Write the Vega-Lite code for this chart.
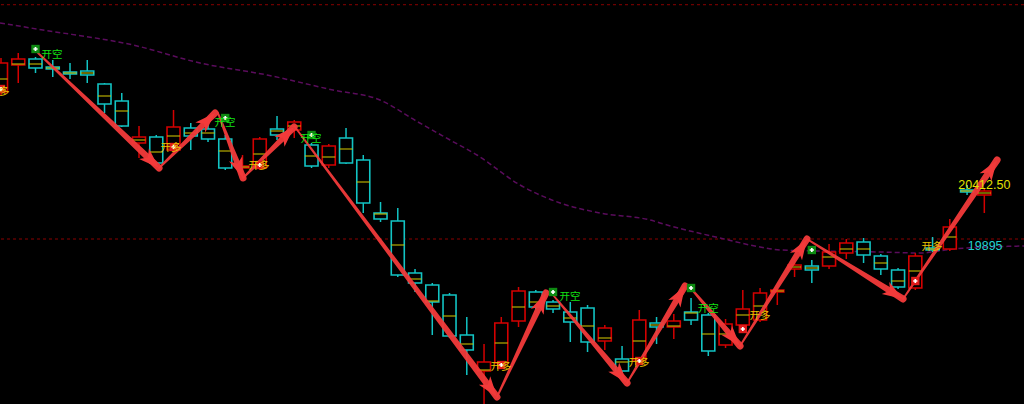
{
  "$schema": "https://vega.github.io/schema/vega-lite/v6.json",
  "width": 1024,
  "height": 404,
  "autosize": {"type": "none"},
  "padding": 0,
  "background": "#000000",
  "config": {"view": {"stroke": null}},
  "datasets": {
    "candles": [
      {"i":0,"o":21145,"h":21434,"l":21119.5,"c":21391.5,"m":21255.5},
      {"i":1,"o":21374.5,"h":21476.5,"l":21221.5,"c":21425.5,"m":21383},
      {"i":2,"o":21425.5,"h":21442.5,"l":21306.5,"c":21349,"m":21383},
      {"i":3,"o":21357.5,"h":21417,"l":21272.5,"c":21340.5,"m":21349},
      {"i":4,"o":21315,"h":21391.5,"l":21255.5,"c":21298,"m":21306.5},
      {"i":5,"o":21323.5,"h":21417,"l":21221.5,"c":21289.5,"m":21306.5},
      {"i":6,"o":21213,"h":21221.5,"l":20966.5,"c":21043,"m":21111},
      {"i":7,"o":21068.5,"h":21136.5,"l":20847.5,"c":20856,"m":20983.5},
      {"i":8,"o":20711.5,"h":20856,"l":20584,"c":20762.5,"m":20737},
      {"i":9,"o":20762.5,"h":20779.5,"l":20524.5,"c":20541.5,"m":20635},
      {"i":10,"o":20652,"h":20992,"l":20635,"c":20847.5,"m":20771},
      {"i":11,"o":20839,"h":20881.5,"l":20652,"c":20771,"m":20796.5},
      {"i":12,"o":20830.5,"h":20890,"l":20720,"c":20745.5,"m":20796.5},
      {"i":13,"o":20745.5,"h":20779.5,"l":20482,"c":20499,"m":20643.5},
      {"i":14,"o":20499,"h":20609.5,"l":20422.5,"c":20516,"m":20507.5},
      {"i":15,"o":20499,"h":20762.5,"l":20482,"c":20745.5,"m":20618},
      {"i":16,"o":20830.5,"h":20941,"l":20737,"c":20779.5,"m":20813.5},
      {"i":17,"o":20822,"h":20907,"l":20754,"c":20890,"m":20856},
      {"i":18,"o":20694.5,"h":20711.5,"l":20499,"c":20516,"m":20601},
      {"i":19,"o":20524.5,"h":20703,"l":20499,"c":20686,"m":20592.5},
      {"i":20,"o":20754,"h":20839,"l":20533,"c":20541.5,"m":20660.5},
      {"i":21,"o":20567,"h":20609.5,"l":20116.5,"c":20201.5,"m":20380},
      {"i":22,"o":20116.5,"h":20210,"l":20040,"c":20065.5,"m":20108},
      {"i":23,"o":20048.5,"h":20159,"l":19572.5,"c":19589.5,"m":19844.5},
      {"i":24,"o":19606.5,"h":19640.5,"l":19445,"c":19521.5,"m":19555.5},
      {"i":25,"o":19504.5,"h":19521.5,"l":19079.5,"c":19360,"m":19368.5},
      {"i":26,"o":19419.5,"h":19436.5,"l":19054,"c":19071,"m":19241},
      {"i":27,"o":19079.5,"h":19232.5,"l":18739.5,"c":18952,"m":19003},
      {"i":28,"o":18773.5,"h":19003,"l":18493,"c":18850,"m":18782},
      {"i":29,"o":18841.5,"h":19232.5,"l":18824.5,"c":19181.5,"m":19011.5},
      {"i":30,"o":19198.5,"h":19487.5,"l":19147.5,"c":19453.5,"m":19317.5},
      {"i":31,"o":19445,"h":19462,"l":19300.5,"c":19317.5,"m":19360},
      {"i":32,"o":19360,"h":19377,"l":19266.5,"c":19300.5,"m":19326},
      {"i":33,"o":19275,"h":19360,"l":19020,"c":19190,"m":19224},
      {"i":34,"o":19309,"h":19334.5,"l":18935,"c":19020,"m":19156},
      {"i":35,"o":19028.5,"h":19164.5,"l":18952,"c":19139,"m":19054},
      {"i":36,"o":18875.5,"h":18986,"l":18756.5,"c":18773.5,"m":18850},
      {"i":37,"o":18867,"h":19292,"l":18850,"c":19207,"m":19028.5},
      {"i":38,"o":19181.5,"h":19232.5,"l":19003,"c":19147.5,"m":19164.5},
      {"i":39,"o":19147.5,"h":19258,"l":19045.5,"c":19198.5,"m":19156},
      {"i":40,"o":19275,"h":19394,"l":19164.5,"c":19207,"m":19266.5},
      {"i":41,"o":19249.5,"h":19266.5,"l":18901,"c":18943.5,"m":19088},
      {"i":42,"o":18994.5,"h":19215.5,"l":18969,"c":19173,"m":19088},
      {"i":43,"o":19164.5,"h":19462,"l":19096.5,"c":19300.5,"m":19249.5},
      {"i":44,"o":19207,"h":19479,"l":19190,"c":19436.5,"m":19326},
      {"i":45,"o":19445,"h":19470.5,"l":19334.5,"c":19462,"m":19453.5},
      {"i":46,"o":19640.5,"h":19691.5,"l":19572.5,"c":19674.5,"m":19657.5},
      {"i":47,"o":19666,"h":19717,"l":19521.5,"c":19632,"m":19649},
      {"i":48,"o":19666,"h":19853,"l":19640.5,"c":19785,"m":19742.5},
      {"i":49,"o":19776.5,"h":19895.5,"l":19725.5,"c":19861.5,"m":19810.5},
      {"i":50,"o":19870,"h":19904,"l":19691.5,"c":19759.5,"m":19810.5},
      {"i":51,"o":19751,"h":19768,"l":19589.5,"c":19640.5,"m":19691.5},
      {"i":52,"o":19632,"h":19649,"l":19470.5,"c":19487.5,"m":19538.5},
      {"i":53,"o":19479,"h":19776.5,"l":19462,"c":19751,"m":19623.5},
      {"i":54,"o":19819,"h":19912.5,"l":19785,"c":19802,"m":19810.5},
      {"i":55,"o":19810.5,"h":20065.5,"l":19793.5,"c":19997.5,"m":19912.5},
      {"i":56,"o":20312,"h":20354.5,"l":20269.5,"c":20295,"m":20303.5},
      {"i":57,"o":20269.5,"h":20329,"l":20116.5,"c":20303.5,"m":20286.5}
    ],
    "ma": [
      {"i":-0.058,"v":21731.5},{"i":2.435,"v":21672},{"i":7.652,"v":21544.5},{"i":11.536,"v":21391.5},
      {"i":15.42,"v":21289.5},{"i":19.246,"v":21162},{"i":21.97,"v":21077},{"i":24.17,"v":20890},
      {"i":26.03,"v":20737},{"i":27.59,"v":20609.5},{"i":30.09,"v":20354.5},{"i":32.41,"v":20201.5},
      {"i":34.72,"v":20116.5},{"i":37.62,"v":20057},{"i":38.61,"v":20014.5},{"i":41.68,"v":19904},
      {"i":44.0,"v":19827.5},{"i":45.16,"v":19802},{"i":47.48,"v":19793.5},{"i":50.96,"v":19785},
      {"i":53.28,"v":19776.5},{"i":55.19,"v":19810.5},{"i":59.3,"v":19836}
    ],
    "hlines": [{"v":21887},{"v":19895.5}],
    "arrows": [
      {"a":1,"p":0,"i":2.145,"v":21476.5},{"a":1,"p":1,"i":9.16,"v":20499},
      {"a":2,"p":0,"i":9.16,"v":20499},{"a":2,"p":1,"i":12.41,"v":20966.5},
      {"a":3,"p":0,"i":12.58,"v":20966.5},{"a":3,"p":1,"i":14.03,"v":20414},
      {"a":4,"p":0,"i":14.03,"v":20414},{"a":4,"p":1,"i":16.99,"v":20847.5},
      {"a":5,"p":0,"i":17.04,"v":20847.5},{"a":5,"p":1,"i":28.75,"v":18552.5},
      {"a":6,"p":0,"i":28.75,"v":18552.5},{"a":6,"p":1,"i":31.59,"v":19436.5},
      {"a":7,"p":0,"i":32.0,"v":19419.5},{"a":7,"p":1,"i":36.29,"v":18671.5},
      {"a":8,"p":0,"i":36.29,"v":18671.5},{"a":8,"p":1,"i":39.65,"v":19496},
      {"a":9,"p":0,"i":39.83,"v":19504.5},{"a":9,"p":1,"i":42.84,"v":18986},
      {"a":10,"p":0,"i":42.84,"v":18986},{"a":10,"p":1,"i":46.72,"v":19895.5},
      {"a":11,"p":0,"i":46.72,"v":19895.5},{"a":11,"p":1,"i":52.29,"v":19385.5},
      {"a":12,"p":0,"i":52.29,"v":19385.5},{"a":12,"p":1,"i":57.74,"v":20567}
    ],
    "heads": [
      {"i":9.16,"v":20499,"ang":133.5},{"i":12.41,"v":20966.5,"ang":45.5},
      {"i":14.03,"v":20414,"ang":159},{"i":16.99,"v":20847.5,"ang":45},
      {"i":28.75,"v":18552.5,"ang":143.2},{"i":31.59,"v":19436.5,"ang":25.2},
      {"i":36.29,"v":18671.5,"ang":139.9},{"i":39.65,"v":19496,"ang":30.9},
      {"i":42.84,"v":18986,"ang":139.55},{"i":46.72,"v":19895.5,"ang":32.05},
      {"i":52.29,"v":19385.5,"ang":122},{"i":57.74,"v":20567,"ang":34.07}
    ],
    "icons": [
      {"i":2,"v":21510.5,"t":"开空"},{"i":13,"v":20924,"t":"开空"},{"i":18,"v":20779.5,"t":"开空"},
      {"i":32,"v":19445,"t":"开空"},{"i":40,"v":19479,"t":"开空"},{"i":47,"v":19802,"t":"开空"},
      {"i":0,"v":21170.5,"t":"开多"},{"i":10,"v":20677.5,"t":"开多"},{"i":15,"v":20524.5,"t":"开多"},
      {"i":29,"v":18824.5,"t":"开多"},{"i":37,"v":18858.5,"t":"开多"},{"i":43,"v":19130.5,"t":"开多"},
      {"i":53,"v":19538.5,"t":"开多"}
    ],
    "labels": [
      {"i":2.957,"v":21459.5,"t":"开空"},{"i":12.99,"v":20881.5,"t":"开空"},{"i":17.97,"v":20745.5,"t":"开空"},
      {"i":32.99,"v":19402.5,"t":"开空"},{"i":40.99,"v":19300.5,"t":"开空"},
      {"i":-0.116,"v":21145,"t":"开多"},{"i":9.855,"v":20669,"t":"开多"},{"i":14.96,"v":20516,"t":"开多"},
      {"i":28.99,"v":18807.5,"t":"开多"},{"i":36.99,"v":18841.5,"t":"开多"},{"i":44.0,"v":19241,"t":"开多"},
      {"i":53.97,"v":19827.5,"t":"开多"}
    ],
    "prices": [
      {"i":57.0,"v":20354.5,"t":"20412.50"},
      {"i":57.05,"v":19836,"t":"19895"}
    ]
  },
  "layer": [
    {
      "data": {"name": "hlines"},
      "mark": {"type": "rule", "color": "#8a0000", "strokeWidth": 1, "strokeDash": [3, 3]},
      "encoding": {
        "y": {"field": "v", "type": "quantitative", "scale": {"domain": [18493, 21927], "nice": false, "zero": false}, "axis": null}
      }
    },
    {
      "data": {"name": "ma"},
      "mark": {"type": "line", "color": "#5a0c5c", "strokeWidth": 1.5, "strokeDash": [5, 3], "interpolate": "monotone"},
      "encoding": {
        "x": {"field": "i", "type": "quantitative", "scale": {"domain": [-0.058, 59.3], "nice": false, "zero": false, "padding": 0}, "axis": null},
        "y": {"field": "v", "type": "quantitative", "axis": null}
      }
    },
    {
      "data": {"name": "candles"},
      "mark": {"type": "rule", "strokeWidth": 1.5},
      "encoding": {
        "x": {"field": "i", "type": "quantitative", "axis": null},
        "y": {"field": "h", "type": "quantitative", "axis": null},
        "y2": {"field": "l"},
        "color": {"condition": {"test": "datum.c >= datum.o", "value": "#d40000"}, "value": "#12c4c4"}
      }
    },
    {
      "data": {"name": "candles"},
      "mark": {"type": "bar", "size": 13, "fill": "#000000", "strokeWidth": 1.6},
      "encoding": {
        "x": {"field": "i", "type": "quantitative", "scale": {"domain": [-0.058, 59.3], "nice": false, "zero": false, "padding": 0}, "axis": null},
        "y": {"field": "o", "type": "quantitative", "axis": null},
        "y2": {"field": "c"},
        "stroke": {"condition": {"test": "datum.c >= datum.o", "value": "#d40000"}, "value": "#12c4c4"}
      }
    },
    {
      "data": {"name": "candles"},
      "mark": {"type": "tick", "orient": "horizontal", "size": 13, "thickness": 1.5, "color": "#d0c400"},
      "encoding": {
        "x": {"field": "i", "type": "quantitative", "axis": null},
        "y": {"field": "m", "type": "quantitative", "axis": null}
      }
    },
    {
      "data": {"name": "arrows"},
      "mark": {"type": "trail", "color": "#f23a3a", "opacity": 0.95},
      "encoding": {
        "x": {"field": "i", "type": "quantitative", "axis": null},
        "y": {"field": "v", "type": "quantitative", "axis": null},
        "detail": {"field": "a", "type": "nominal"},
        "order": {"field": "p", "type": "quantitative"},
        "size": {"field": "p", "type": "quantitative", "scale": {"domain": [0, 1], "range": [1.8, 7]}, "legend": null}
      }
    },
    {
      "data": {"name": "heads"},
      "mark": {"type": "point", "shape": "M0,0L-0.6,1.75L0,1.3L0.6,1.75Z", "filled": true, "size": 560, "color": "#f23a3a", "opacity": 1},
      "encoding": {
        "x": {"field": "i", "type": "quantitative", "axis": null},
        "y": {"field": "v", "type": "quantitative", "axis": null},
        "angle": {"field": "ang", "type": "quantitative", "scale": null}
      }
    },
    {
      "data": {"name": "icons"},
      "mark": {"type": "point", "shape": "square", "filled": true, "size": 70, "opacity": 1},
      "encoding": {
        "x": {"field": "i", "type": "quantitative", "axis": null},
        "y": {"field": "v", "type": "quantitative", "axis": null},
        "fill": {"condition": {"test": "datum.t == '开空'", "value": "#0e8a12"}, "value": "#e01a1a"}
      }
    },
    {
      "data": {"name": "icons"},
      "mark": {"type": "point", "shape": "cross", "filled": true, "size": 18, "color": "#ffffff", "opacity": 1},
      "encoding": {
        "x": {"field": "i", "type": "quantitative", "axis": null},
        "y": {"field": "v", "type": "quantitative", "axis": null}
      }
    },
    {
      "data": {"name": "labels"},
      "mark": {"type": "text", "font": "Noto Sans CJK SC", "fontSize": 10.5, "baseline": "middle", "align": "center", "clip": true},
      "encoding": {
        "x": {"field": "i", "type": "quantitative", "axis": null},
        "y": {"field": "v", "type": "quantitative", "axis": null},
        "text": {"field": "t"},
        "color": {"condition": {"test": "datum.t == '开空'", "value": "#14e014"}, "value": "#e8c400"}
      }
    },
    {
      "data": {"name": "prices"},
      "mark": {"type": "text", "font": "Liberation Sans", "fontSize": 12.5, "baseline": "middle", "align": "center"},
      "encoding": {
        "x": {"field": "i", "type": "quantitative", "axis": null},
        "y": {"field": "v", "type": "quantitative", "axis": null},
        "text": {"field": "t"},
        "color": {"condition": {"test": "datum.t == '19895'", "value": "#22d0d0"}, "value": "#e0e000"}
      }
    }
  ]
}
